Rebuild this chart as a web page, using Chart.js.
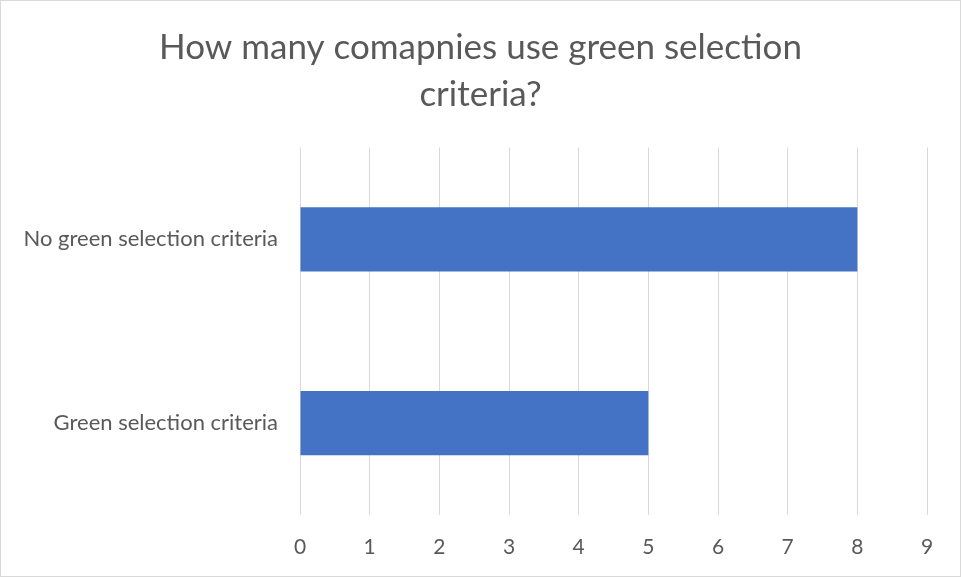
<!DOCTYPE html>
<html>
<head>
<meta charset="utf-8">
<script src="https://cdn.jsdelivr.net/npm/chart.js@4.4.1/dist/chart.umd.min.js"></script>
<style>
  body { margin: 0; background: #fff; }
  #wrap { width: 959px; height: 575px; border: 1px solid #d9d9d9; }
</style>
</head>
<body>
<div id="wrap"><canvas id="companyChart" width="959" height="575"></canvas></div>
<script>
var categories = ['No green selection criteria', 'Green selection criteria'];
var companyCounts = [8, 5];
var xTicks = [0, 1, 2, 3, 4, 5, 6, 7, 8, 9];
var chartTitle = ['How many comapnies use green selection', 'criteria?'];

var textColor = '#595959';
var fontFamily = 'Lato';

var ctx = document.getElementById('companyChart').getContext('2d');
var chart = new Chart(ctx, {
  type: 'bar',
  data: {
    labels: categories,
    datasets: [{
      label: 'Companies',
      data: companyCounts,
      backgroundColor: '#4472c4',
      borderWidth: 0,
      categoryPercentage: 1,
      barPercentage: 0.35
    }]
  },
  options: {
    indexAxis: 'y',
    responsive: false,
    animation: false,
    layout: { padding: 0 },
    plugins: {
      legend: { display: false },
      tooltip: { enabled: false },
      title: {
        display: true,
        text: chartTitle,
        color: textColor,
        font: { family: fontFamily, size: 35, weight: 'normal', lineHeight: 1.32 },
        padding: { top: 24, bottom: 30 }
      }
    },
    scales: {
      x: {
        min: 0,
        max: 9,
        afterBuildTicks: function (scale) {
          scale.ticks = xTicks.map(function (v) { return { value: v }; });
        },
        // reserve room on the right through the axis so the title stays centred
        afterFit: function (scale) {
          scale.height = 61;
          scale.paddingRight = 33;
        },
        grid: { color: '#d9d9d9', lineWidth: 1, drawTicks: false },
        border: { display: false },
        ticks: {
          color: textColor,
          padding: 20,
          font: { family: fontFamily, size: 21 }
        }
      },
      y: {
        afterFit: function (scale) { scale.width = 299; },
        grid: { display: false, drawTicks: false },
        border: { display: false },
        ticks: {
          color: textColor,
          padding: 22,
          font: { family: fontFamily, size: 22 }
        }
      }
    }
  }
});
</script>
</body>
</html>
